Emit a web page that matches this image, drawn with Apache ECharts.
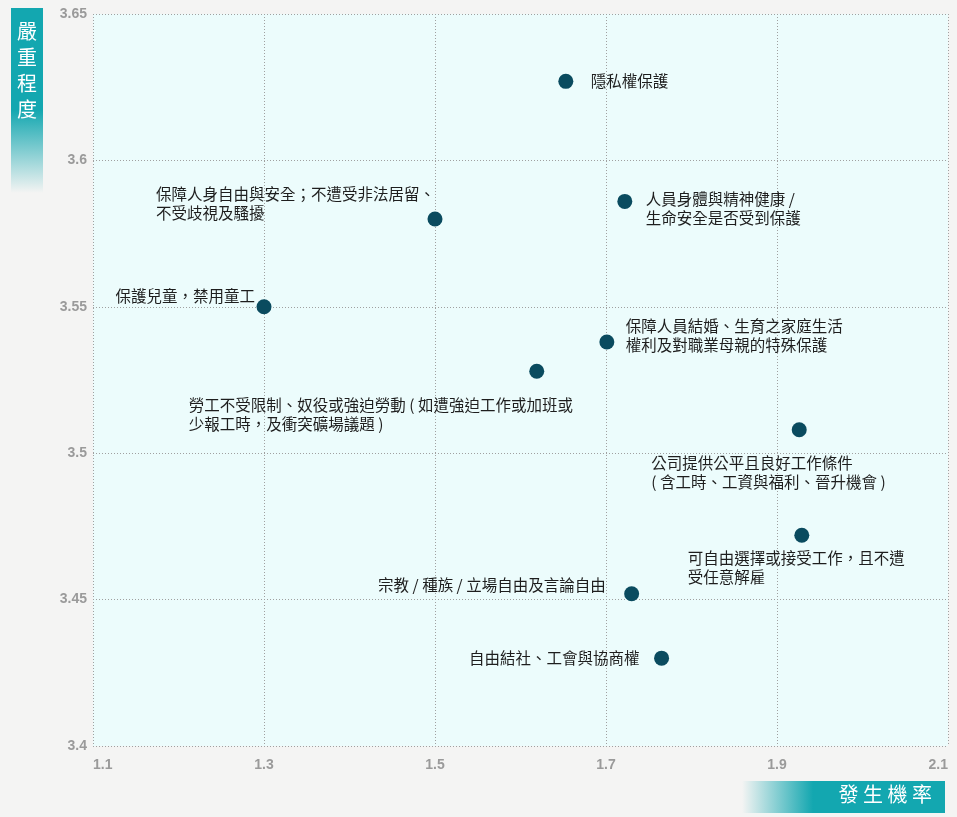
<!DOCTYPE html>
<html lang="zh-Hant">
<head>
<meta charset="UTF-8">
<title>發生機率與嚴重程度</title>
<script src="https://cdn.jsdelivr.net/npm/echarts@6/dist/echarts.min.js"></script>
<style>
    body { margin: 0; padding: 0; overflow: hidden; background: #f4f4f3; }
    #chart { width: 957px; height: 817px; }
</style>
</head>
<body>
<div id="chart"></div>
<script>
// 議題名稱（標籤內換行照原圖）
const names = [
    '隱私權保護',
    '人員身體與精神健康 /\n生命安全是否受到保護',
    '保障人身自由與安全；不遭受非法居留、\n不受歧視及騷擾',
    '保護兒童，禁用童工',
    '保障人員結婚、生育之家庭生活\n權利及對職業母親的特殊保護',
    '勞工不受限制、奴役或強迫勞動 ( 如遭強迫工作或加班或\n少報工時，及衝突礦場議題 )',
    '公司提供公平且良好工作條件\n( 含工時、工資與福利、晉升機會 )',
    '可自由選擇或接受工作，且不遭\n受任意解雇',
    '宗教 / 種族 / 立場自由及言論自由',
    '自由結社、工會與協商權'
];
const probability = [1.653, 1.722, 1.500, 1.300, 1.701, 1.619, 1.926, 1.929, 1.730, 1.765];
const severity = [3.627, 3.586, 3.580, 3.550, 3.538, 3.528, 3.508, 3.472, 3.452, 3.430];
const xTicks = [1.1, 1.3, 1.5, 1.7, 1.9, 2.1];

// 標籤相對圓點中心的位置 [dx, dy, 對齊]
const labelPlace = [
    [25, 0, 'left'],
    [21, 7, 'left'],
    [-279, -15, 'left'],
    [-9, -11, 'right'],
    [19, -6, 'left'],
    [-348, 43, 'left'],
    [-148, 43, 'left'],
    [-114, 32, 'left'],
    [-26, -9, 'right'],
    [-22, 0, 'right']
];

const R = 7.5;
const points = names.map((n, i) => ({
    name: n,
    value: [probability[i], severity[i]],
    label: {
        position: [labelPlace[i][0] + R, labelPlace[i][1] + R],
        align: labelPlace[i][2],
        verticalAlign: 'middle'
    }
}));

const teal = '#13a7b0';
const gridLine = { show: true, lineStyle: { type: [1, 2], color: '#a0a0a0', width: 1 } };
const ec = echarts.init(document.getElementById('chart'));
ec.setOption({
    backgroundColor: '#f4f4f3',
    animation: false,
    grid: {
        left: 93, right: 9, top: 14, bottom: 71,
        show: true,
        backgroundColor: '#ecfcfc',
        borderWidth: 0
    },
    xAxis: {
        type: 'value',
        min: 1.1,
        max: 2.1,
        axisLine: { show: false },
        axisTick: { show: false, customValues: xTicks },
        splitLine: gridLine,
        axisLabel: {
            customValues: xTicks,
            color: '#9a9a9a',
            fontSize: 14,
            fontWeight: 'bold',
            fontFamily: 'Liberation Sans, Arial, sans-serif',
            margin: 12,
            alignMinLabel: 'left',
            alignMaxLabel: 'right',
            formatter: v => String(+v.toFixed(1))
        }
    },
    yAxis: {
        type: 'value',
        min: 3.4,
        max: 3.65,
        interval: 0.05,
        axisLine: { show: false },
        axisTick: { show: false },
        splitLine: gridLine,
        axisLabel: {
            color: '#9a9a9a',
            fontSize: 14,
            fontWeight: 'bold',
            fontFamily: 'Liberation Sans, Arial, sans-serif',
            margin: 6,
            formatter: v => String(+v.toFixed(2))
        }
    },
    graphic: [
        {
            type: 'rect',
            shape: { x: 11, y: 8, width: 32, height: 185 },
            style: {
                fill: new echarts.graphic.LinearGradient(0, 0, 0, 1, [
                    { offset: 0, color: teal },
                    { offset: 0.55, color: teal },
                    { offset: 1, color: 'rgba(19,167,176,0)' }
                ])
            }
        },
        {
            type: 'text',
            left: 17, top: 18,
            style: {
                text: '嚴\n重\n程\n度',
                fill: '#ffffff',
                font: '20px "Noto Sans CJK TC", sans-serif',
                lineHeight: 26
            }
        },
        {
            type: 'rect',
            shape: { x: 742, y: 781, width: 203, height: 32 },
            style: {
                fill: new echarts.graphic.LinearGradient(0, 0, 1, 0, [
                    { offset: 0, color: 'rgba(19,167,176,0)' },
                    { offset: 0.35, color: teal },
                    { offset: 1, color: teal }
                ])
            }
        },
        {
            type: 'text',
            right: 25, top: 784,
            style: {
                text: '發 生 機 率',
                fill: '#ffffff',
                font: '20px "Noto Sans CJK TC", sans-serif'
            }
        }
    ],
    series: [{
        type: 'scatter',
        symbolSize: 15,
        itemStyle: { color: '#0a4b5f', opacity: 1 },
        label: {
            show: true,
            formatter: p => p.name,
            color: '#1e1e1e',
            fontSize: 15.5,
            lineHeight: 19,
            fontFamily: '"Noto Sans CJK TC", sans-serif'
        },
        data: points
    }]
});
</script>
</body>
</html>
